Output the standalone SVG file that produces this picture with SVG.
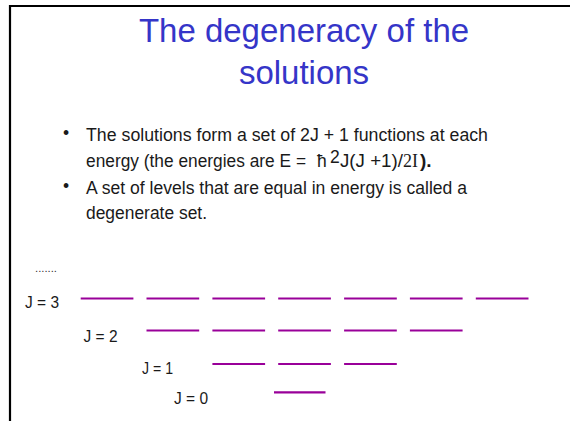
<svg xmlns="http://www.w3.org/2000/svg" width="570" height="421" viewBox="0 0 570 421">
<style>
.title{font-family:"Liberation Sans",Arial,sans-serif;font-size:33px;fill:#3535C8;text-anchor:middle}
.body{font-family:"Liberation Sans",Arial,sans-serif;font-size:17.5px;fill:#1a1a1a}
.lab{font-family:"Liberation Sans",Arial,sans-serif;font-size:16px;fill:#1a1a1a}
.lvl{stroke:#990099;stroke-width:2.2;fill:none}
.frame{stroke:#000;stroke-width:2.2;fill:none}
</style>
<rect width="570" height="421" fill="#fff"/>
<path class="frame" d="M10,421 V6 H570"/>
<g id="title">
<text class="title" x="304" y="42">The degeneracy of the</text>
<text class="title" x="304" y="84">solutions</text>
</g>
<g id="bullets">
<text class="body" x="63" y="139" font-size="10">•</text>
<text class="body" x="86" y="141" textLength="402" lengthAdjust="spacingAndGlyphs">The solutions form a set of 2J + 1 functions at each</text>
<text class="body" x="86" y="167" textLength="220" lengthAdjust="spacingAndGlyphs">energy (the energies are E =</text>
<text class="body" x="317" y="167" font-size="21">ħ</text>
<text class="body" x="330" y="163" font-size="10">2</text>
<text class="body" x="340" y="167" textLength="63" lengthAdjust="spacingAndGlyphs">J(J +1)/</text>
<text x="403" y="167" font-family="'Liberation Serif',serif" font-size="18" fill="#1a1a1a">2I</text>
<text x="420" y="167" font-family="'Liberation Sans',sans-serif" font-size="19" font-weight="bold" fill="#1a1a1a">).</text>
<text class="body" x="63" y="192" font-size="10">•</text>
<text class="body" x="86" y="194" textLength="381" lengthAdjust="spacingAndGlyphs">A set of levels that are equal in energy is called a</text>
<text class="body" x="86" y="219" textLength="121" lengthAdjust="spacingAndGlyphs">degenerate set.</text>
</g>
<g id="dots">
<text x="35" y="272" font-family="'Liberation Sans',sans-serif" font-size="10" fill="#333" textLength="22" lengthAdjust="spacingAndGlyphs">.......</text>
</g>
<g id="level-J3">
<text class="lab" x="25" y="308" textLength="34" lengthAdjust="spacingAndGlyphs">J = 3</text>
<path class="lvl" d="M80.7,298.5h52.7M146.5,298.5h52.7M212.4,298.5h52.7M278.2,298.5h52.7M344.1,298.5h52.7M409.9,298.5h52.7M475.8,298.5h52.7"/>
</g>
<g id="level-J2">
<text class="lab" x="83.5" y="342" textLength="34" lengthAdjust="spacingAndGlyphs">J = 2</text>
<path class="lvl" d="M146.5,330.5h52.7M212.4,330.5h52.7M278.2,330.5h52.7M344.1,330.5h52.7M409.9,330.5h52.7"/>
</g>
<g id="level-J1">
<text class="lab" x="142" y="373.5" textLength="31" lengthAdjust="spacingAndGlyphs">J = 1</text>
<path class="lvl" d="M212.4,364h52.7M278.2,364h52.7M344.1,364h52.7"/>
</g>
<g id="level-J0">
<text class="lab" x="174" y="404" textLength="34" lengthAdjust="spacingAndGlyphs">J = 0</text>
<path class="lvl" d="M274,392.3h51.5"/>
</g>
</svg>
